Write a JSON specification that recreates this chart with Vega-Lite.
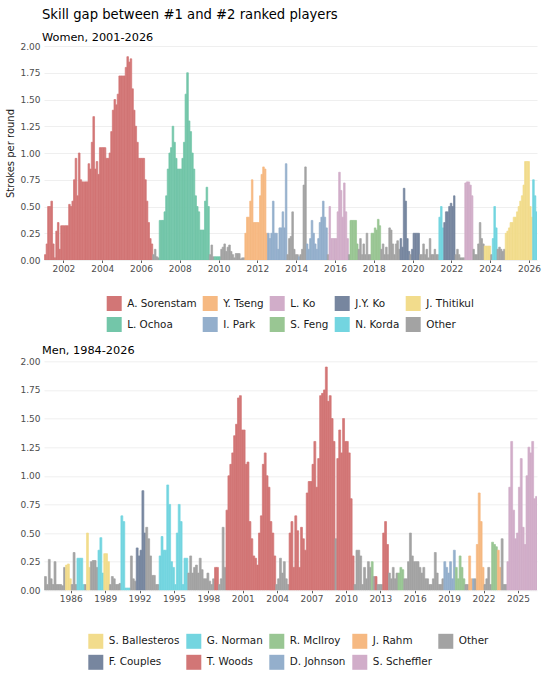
{
"$schema":"https://vega.github.io/schema/vega-lite/v6.json",
"padding":{"left":5,"top":7,"right":4,"bottom":4},
"background":"white",
"bounds":"flush",
"spacing":101.3,
"config":{
"font":"DejaVu Sans",
"view":{"stroke":null},
"axis":{"labelFont":"DejaVu Sans","labelFontSize":9,"labelColor":"#4d4d4d","ticks":false,"domain":false,"gridColor":"#ebebeb","gridWidth":0.8,"labelPadding":4,"titleFont":"DejaVu Sans","titleFontWeight":"normal","titleFontSize":10,"titleColor":"#1a1a1a","titlePadding":4},
"axisX":{"ticks":true,"tickSize":2.5,"tickColor":"#333333","tickWidth":0.8,"labelPadding":1.5},
"legend":{"title":null,"symbolType":"square","symbolSize":225,"symbolStrokeWidth":0,"symbolOpacity":1,"labelFont":"DejaVu Sans","labelFontSize":10.4,"labelColor":"#1a1a1a","labelOffset":5.5,"columnPadding":6,"rowPadding":6},
"title":{"font":"DejaVu Sans","fontWeight":"normal","color":"#000000","subtitleFont":"DejaVu Sans","subtitleColor":"#000000","anchor":"start","frame":"group"}
},
"datasets":{
"wplayers":[{"c":"S","player":"A. Sorenstam"},{"c":"O","player":"L. Ochoa"},{"c":"T","player":"Y. Tseng"},{"c":"P","player":"I. Park"},{"c":"K","player":"L. Ko"},{"c":"F","player":"S. Feng"},{"c":"J","player":"J.Y. Ko"},{"c":"N","player":"N. Korda"},{"c":"A","player":"J. Thitikul"},{"c":"X","player":"Other"}],
"mplayers":[{"c":"B","player":"S. Ballesteros"},{"c":"C","player":"F. Couples"},{"c":"N","player":"G. Norman"},{"c":"W","player":"T. Woods"},{"c":"M","player":"R. McIlroy"},{"c":"D","player":"D. Johnson"},{"c":"R","player":"J. Rahm"},{"c":"S","player":"S. Scheffler"},{"c":"X","player":"Other"}],
"women":[
{"d":"2001-01","v":0.05,"c":"S"},{"d":"2001-02","v":0.15,"c":"S"},{"d":"2001-03","v":0.5,"c":"S"},{"d":"2001-04","v":0.5,"c":"S"},{"d":"2001-05","v":0.55,"c":"S"},{"d":"2001-06","v":0.15,"c":"S"},{"d":"2001-07","v":0.02,"c":"S"},{"d":"2001-08","v":0.27,"c":"S"},{"d":"2001-09","v":0.35,"c":"S"},{"d":"2001-10","v":0.1,"c":"S"},{"d":"2001-11","v":0.32,"c":"S"},{"d":"2001-12","v":0.32,"c":"S"},
{"d":"2002-01","v":0.32,"c":"S"},{"d":"2002-02","v":0.32,"c":"S"},{"d":"2002-03","v":0.32,"c":"S"},{"d":"2002-04","v":0.52,"c":"S"},{"d":"2002-05","v":0.5,"c":"S"},{"d":"2002-06","v":0.55,"c":"S"},{"d":"2002-07","v":0.75,"c":"S"},{"d":"2002-08","v":0.95,"c":"S"},{"d":"2002-09","v":0.6,"c":"S"},{"d":"2002-10","v":1.0,"c":"S"},{"d":"2002-11","v":0.75,"c":"S"},{"d":"2002-12","v":0.73,"c":"S"},
{"d":"2003-01","v":0.73,"c":"S"},{"d":"2003-02","v":0.73,"c":"S"},{"d":"2003-03","v":0.73,"c":"S"},{"d":"2003-04","v":0.9,"c":"S"},{"d":"2003-05","v":0.85,"c":"S"},{"d":"2003-06","v":1.1,"c":"S"},{"d":"2003-07","v":1.34,"c":"S"},{"d":"2003-08","v":0.85,"c":"S"},{"d":"2003-09","v":0.92,"c":"S"},{"d":"2003-10","v":0.8,"c":"S"},{"d":"2003-11","v":1.05,"c":"S"},{"d":"2003-12","v":1.05,"c":"S"},
{"d":"2004-01","v":1.05,"c":"S"},{"d":"2004-02","v":1.05,"c":"S"},{"d":"2004-03","v":0.95,"c":"S"},{"d":"2004-04","v":0.95,"c":"S"},{"d":"2004-05","v":1.0,"c":"S"},{"d":"2004-06","v":1.2,"c":"S"},{"d":"2004-07","v":1.4,"c":"S"},{"d":"2004-08","v":1.5,"c":"S"},{"d":"2004-09","v":1.45,"c":"S"},{"d":"2004-10","v":1.55,"c":"S"},{"d":"2004-11","v":1.72,"c":"S"},{"d":"2004-12","v":1.72,"c":"S"},
{"d":"2005-01","v":1.72,"c":"S"},{"d":"2005-02","v":1.72,"c":"S"},{"d":"2005-03","v":1.8,"c":"S"},{"d":"2005-04","v":1.9,"c":"S"},{"d":"2005-05","v":1.85,"c":"S"},{"d":"2005-06","v":1.88,"c":"S"},{"d":"2005-07","v":1.6,"c":"S"},{"d":"2005-08","v":1.4,"c":"S"},{"d":"2005-09","v":1.25,"c":"S"},{"d":"2005-10","v":1.1,"c":"S"},{"d":"2005-11","v":0.95,"c":"S"},{"d":"2005-12","v":0.95,"c":"S"},
{"d":"2006-01","v":0.95,"c":"S"},{"d":"2006-02","v":0.95,"c":"S"},{"d":"2006-03","v":0.75,"c":"S"},{"d":"2006-04","v":0.55,"c":"S"},{"d":"2006-05","v":0.35,"c":"S"},{"d":"2006-06","v":0.2,"c":"S"},{"d":"2006-07","v":0.15,"c":"S"},{"d":"2006-08","v":0.05,"c":"X"},{"d":"2006-09","v":0.1,"c":"X"},{"d":"2006-10","v":0.03,"c":"X"},{"d":"2006-11","v":0.02,"c":"X"},{"d":"2006-12","v":0.37,"c":"O"},
{"d":"2007-01","v":0.37,"c":"O"},{"d":"2007-02","v":0.37,"c":"O"},{"d":"2007-03","v":0.45,"c":"O"},{"d":"2007-04","v":0.6,"c":"O"},{"d":"2007-05","v":0.85,"c":"O"},{"d":"2007-06","v":1.0,"c":"O"},{"d":"2007-07","v":1.05,"c":"O"},{"d":"2007-08","v":1.25,"c":"O"},{"d":"2007-09","v":1.1,"c":"O"},{"d":"2007-10","v":0.95,"c":"O"},{"d":"2007-11","v":0.85,"c":"O"},{"d":"2007-12","v":0.85,"c":"O"},
{"d":"2008-01","v":0.85,"c":"O"},{"d":"2008-02","v":0.95,"c":"O"},{"d":"2008-03","v":1.1,"c":"O"},{"d":"2008-04","v":1.55,"c":"O"},{"d":"2008-05","v":1.75,"c":"O"},{"d":"2008-06","v":1.3,"c":"O"},{"d":"2008-07","v":1.2,"c":"O"},{"d":"2008-08","v":1.0,"c":"O"},{"d":"2008-09","v":0.85,"c":"O"},{"d":"2008-10","v":0.6,"c":"O"},{"d":"2008-11","v":0.5,"c":"O"},{"d":"2008-12","v":0.45,"c":"O"},
{"d":"2009-01","v":0.28,"c":"O"},{"d":"2009-02","v":0.28,"c":"O"},{"d":"2009-03","v":0.28,"c":"O"},{"d":"2009-04","v":0.55,"c":"O"},{"d":"2009-05","v":0.68,"c":"O"},{"d":"2009-06","v":0.5,"c":"O"},{"d":"2009-07","v":0.05,"c":"X"},{"d":"2009-08","v":0.14,"c":"X"},{"d":"2009-09","v":0.03,"c":"X"},{"d":"2009-10","v":0.03,"c":"O"},{"d":"2009-11","v":0.03,"c":"O"},{"d":"2009-12","v":0.03,"c":"O"},
{"d":"2010-01","v":0.03,"c":"O"},{"d":"2010-02","v":0.1,"c":"X"},{"d":"2010-03","v":0.12,"c":"X"},{"d":"2010-04","v":0.15,"c":"X"},{"d":"2010-05","v":0.08,"c":"X"},{"d":"2010-06","v":0.12,"c":"X"},{"d":"2010-07","v":0.14,"c":"X"},{"d":"2010-08","v":0.08,"c":"X"},{"d":"2010-09","v":0.05,"c":"X"},{"d":"2010-10","v":0.02,"c":"X"},{"d":"2010-11","v":0.06,"c":"X"},{"d":"2010-12","v":0.06,"c":"X"},
{"d":"2011-01","v":0.06,"c":"X"},{"d":"2011-02","v":0.01,"c":"X"},{"d":"2011-03","v":0.02,"c":"X"},{"d":"2011-04","v":0.02,"c":"X"},{"d":"2011-05","v":0.25,"c":"T"},{"d":"2011-06","v":0.4,"c":"T"},{"d":"2011-07","v":0.4,"c":"T"},{"d":"2011-08","v":0.55,"c":"T"},{"d":"2011-09","v":0.75,"c":"T"},{"d":"2011-10","v":0.35,"c":"T"},{"d":"2011-11","v":0.35,"c":"T"},{"d":"2011-12","v":0.35,"c":"T"},
{"d":"2012-01","v":0.35,"c":"T"},{"d":"2012-02","v":0.6,"c":"T"},{"d":"2012-03","v":0.8,"c":"T"},{"d":"2012-04","v":0.87,"c":"T"},{"d":"2012-05","v":0.85,"c":"T"},{"d":"2012-06","v":0.25,"c":"T"},{"d":"2012-07","v":0.25,"c":"P"},{"d":"2012-08","v":0.2,"c":"P"},{"d":"2012-09","v":0.25,"c":"P"},{"d":"2012-10","v":0.55,"c":"P"},{"d":"2012-11","v":0.25,"c":"P"},{"d":"2012-12","v":0.25,"c":"P"},
{"d":"2013-01","v":0.1,"c":"P"},{"d":"2013-02","v":0.3,"c":"P"},{"d":"2013-03","v":0.3,"c":"P"},{"d":"2013-04","v":0.45,"c":"P"},{"d":"2013-05","v":0.3,"c":"P"},{"d":"2013-06","v":0.9,"c":"P"},{"d":"2013-07","v":0.05,"c":"X"},{"d":"2013-08","v":0.2,"c":"X"},{"d":"2013-09","v":0.22,"c":"X"},{"d":"2013-10","v":0.45,"c":"X"},{"d":"2013-11","v":0.1,"c":"X"},{"d":"2013-12","v":0.05,"c":"X"},
{"d":"2014-01","v":0.05,"c":"X"},{"d":"2014-02","v":0.03,"c":"P"},{"d":"2014-03","v":0.05,"c":"X"},{"d":"2014-04","v":0.1,"c":"X"},{"d":"2014-05","v":0.7,"c":"X"},{"d":"2014-06","v":0.87,"c":"X"},{"d":"2014-07","v":0.15,"c":"P"},{"d":"2014-08","v":0.1,"c":"P"},{"d":"2014-09","v":0.2,"c":"P"},{"d":"2014-10","v":0.37,"c":"P"},{"d":"2014-11","v":0.25,"c":"P"},{"d":"2014-12","v":0.15,"c":"P"},
{"d":"2015-01","v":0.1,"c":"P"},{"d":"2015-02","v":0.2,"c":"P"},{"d":"2015-03","v":0.35,"c":"P"},{"d":"2015-04","v":0.4,"c":"P"},{"d":"2015-05","v":0.55,"c":"P"},{"d":"2015-06","v":0.4,"c":"P"},{"d":"2015-07","v":0.3,"c":"P"},{"d":"2015-08","v":0.05,"c":"X"},{"d":"2015-09","v":0.5,"c":"K"},{"d":"2015-10","v":0.2,"c":"K"},{"d":"2015-11","v":0.2,"c":"K"},{"d":"2015-12","v":0.2,"c":"K"},
{"d":"2016-01","v":0.2,"c":"K"},{"d":"2016-02","v":0.45,"c":"K"},{"d":"2016-03","v":0.82,"c":"K"},{"d":"2016-04","v":0.65,"c":"K"},{"d":"2016-05","v":0.4,"c":"K"},{"d":"2016-06","v":0.72,"c":"K"},{"d":"2016-07","v":0.45,"c":"K"},{"d":"2016-08","v":0.2,"c":"K"},{"d":"2016-09","v":0.05,"c":"X"},{"d":"2016-10","v":0.37,"c":"F"},{"d":"2016-11","v":0.37,"c":"F"},{"d":"2016-12","v":0.37,"c":"F"},
{"d":"2017-01","v":0.37,"c":"F"},{"d":"2017-02","v":0.15,"c":"F"},{"d":"2017-03","v":0.1,"c":"X"},{"d":"2017-04","v":0.2,"c":"X"},{"d":"2017-05","v":0.05,"c":"X"},{"d":"2017-06","v":0.15,"c":"X"},{"d":"2017-07","v":0.05,"c":"X"},{"d":"2017-08","v":0.25,"c":"X"},{"d":"2017-09","v":0.05,"c":"X"},{"d":"2017-10","v":0.05,"c":"X"},{"d":"2017-11","v":0.25,"c":"F"},{"d":"2017-12","v":0.25,"c":"F"},
{"d":"2018-01","v":0.3,"c":"F"},{"d":"2018-02","v":0.28,"c":"F"},{"d":"2018-03","v":0.38,"c":"F"},{"d":"2018-04","v":0.32,"c":"F"},{"d":"2018-05","v":0.1,"c":"X"},{"d":"2018-06","v":0.15,"c":"X"},{"d":"2018-07","v":0.05,"c":"X"},{"d":"2018-08","v":0.12,"c":"X"},{"d":"2018-09","v":0.05,"c":"X"},{"d":"2018-10","v":0.3,"c":"X"},{"d":"2018-11","v":0.28,"c":"X"},{"d":"2018-12","v":0.15,"c":"X"},
{"d":"2019-01","v":0.05,"c":"X"},{"d":"2019-02","v":0.15,"c":"X"},{"d":"2019-03","v":0.18,"c":"X"},{"d":"2019-04","v":0.1,"c":"X"},{"d":"2019-05","v":0.2,"c":"J"},{"d":"2019-06","v":0.12,"c":"J"},{"d":"2019-07","v":0.67,"c":"J"},{"d":"2019-08","v":0.55,"c":"J"},{"d":"2019-09","v":0.2,"c":"J"},{"d":"2019-10","v":0.08,"c":"J"},{"d":"2019-11","v":0.05,"c":"X"},{"d":"2019-12","v":0.1,"c":"J"},
{"d":"2020-01","v":0.25,"c":"J"},{"d":"2020-02","v":0.25,"c":"J"},{"d":"2020-03","v":0.25,"c":"J"},{"d":"2020-04","v":0.25,"c":"J"},{"d":"2020-05","v":0.05,"c":"X"},{"d":"2020-06","v":0.05,"c":"X"},{"d":"2020-07","v":0.15,"c":"X"},{"d":"2020-08","v":0.05,"c":"X"},{"d":"2020-09","v":0.1,"c":"X"},{"d":"2020-10","v":0.02,"c":"X"},{"d":"2020-11","v":0.2,"c":"X"},{"d":"2020-12","v":0.05,"c":"X"},
{"d":"2021-01","v":0.05,"c":"X"},{"d":"2021-02","v":0.1,"c":"X"},{"d":"2021-03","v":0.05,"c":"X"},{"d":"2021-04","v":0.05,"c":"X"},{"d":"2021-05","v":0.4,"c":"N"},{"d":"2021-06","v":0.5,"c":"N"},{"d":"2021-07","v":0.3,"c":"N"},{"d":"2021-08","v":0.35,"c":"J"},{"d":"2021-09","v":0.45,"c":"J"},{"d":"2021-10","v":0.45,"c":"J"},{"d":"2021-11","v":0.5,"c":"J"},{"d":"2021-12","v":0.53,"c":"J"},
{"d":"2022-01","v":0.5,"c":"J"},{"d":"2022-02","v":0.6,"c":"J"},{"d":"2022-03","v":0.05,"c":"X"},{"d":"2022-04","v":0.1,"c":"X"},{"d":"2022-05","v":0.05,"c":"X"},{"d":"2022-06","v":0.02,"c":"X"},{"d":"2022-07","v":0.02,"c":"X"},{"d":"2022-08","v":0.02,"c":"X"},{"d":"2022-09","v":0.72,"c":"K"},{"d":"2022-10","v":0.73,"c":"K"},{"d":"2022-11","v":0.73,"c":"K"},{"d":"2022-12","v":0.7,"c":"K"},
{"d":"2023-01","v":0.6,"c":"K"},{"d":"2023-02","v":0.1,"c":"X"},{"d":"2023-03","v":0.05,"c":"X"},{"d":"2023-04","v":0.05,"c":"X"},{"d":"2023-05","v":0.15,"c":"X"},{"d":"2023-06","v":0.35,"c":"X"},{"d":"2023-07","v":0.2,"c":"X"},{"d":"2023-08","v":0.15,"c":"X"},{"d":"2023-09","v":0.13,"c":"A"},{"d":"2023-10","v":0.13,"c":"A"},{"d":"2023-11","v":0.13,"c":"A"},{"d":"2023-12","v":0.13,"c":"A"},
{"d":"2024-01","v":0.05,"c":"X"},{"d":"2024-02","v":0.2,"c":"N"},{"d":"2024-03","v":0.5,"c":"N"},{"d":"2024-04","v":0.3,"c":"N"},{"d":"2024-05","v":0.1,"c":"X"},{"d":"2024-06","v":0.12,"c":"X"},{"d":"2024-07","v":0.1,"c":"X"},{"d":"2024-08","v":0.08,"c":"X"},{"d":"2024-09","v":0.1,"c":"X"},{"d":"2024-10","v":0.25,"c":"A"},{"d":"2024-11","v":0.27,"c":"A"},{"d":"2024-12","v":0.3,"c":"A"},
{"d":"2025-01","v":0.35,"c":"A"},{"d":"2025-02","v":0.35,"c":"A"},{"d":"2025-03","v":0.4,"c":"A"},{"d":"2025-04","v":0.4,"c":"A"},{"d":"2025-05","v":0.45,"c":"A"},{"d":"2025-06","v":0.5,"c":"A"},{"d":"2025-07","v":0.55,"c":"A"},{"d":"2025-08","v":0.6,"c":"A"},{"d":"2025-09","v":0.7,"c":"A"},{"d":"2025-10","v":0.92,"c":"A"},{"d":"2025-11","v":0.92,"c":"A"},{"d":"2025-12","v":0.92,"c":"A"},
{"d":"2026-01","v":0.5,"c":"A"},{"d":"2026-02","v":0.4,"c":"A"},{"d":"2026-03","v":0.75,"c":"N"},{"d":"2026-04","v":0.6,"c":"N"},{"d":"2026-05","v":0.45,"c":"N"}
],
"men":[
{"d":"1983-09","v":0.12,"c":"X"},{"d":"1983-11","v":0.05,"c":"X"},
{"d":"1984-01","v":0.27,"c":"X"},{"d":"1984-03","v":0.1,"c":"X"},{"d":"1984-05","v":0.05,"c":"X"},{"d":"1984-07","v":0.25,"c":"X"},{"d":"1984-09","v":0.05,"c":"X"},{"d":"1984-11","v":0.05,"c":"X"},
{"d":"1985-01","v":0.05,"c":"X"},{"d":"1985-03","v":0.04,"c":"X"},{"d":"1985-05","v":0.2,"c":"X"},{"d":"1985-07","v":0.22,"c":"B"},{"d":"1985-09","v":0.23,"c":"B"},{"d":"1985-11","v":0.1,"c":"B"},
{"d":"1986-01","v":0.05,"c":"X"},{"d":"1986-03","v":0.33,"c":"X"},{"d":"1986-05","v":0.05,"c":"X"},{"d":"1986-07","v":0.28,"c":"N"},{"d":"1986-09","v":0.28,"c":"N"},{"d":"1986-11","v":0.28,"c":"N"},
{"d":"1987-01","v":0.05,"c":"N"},{"d":"1987-03","v":0.05,"c":"X"},{"d":"1987-05","v":0.5,"c":"B"},{"d":"1987-07","v":0.2,"c":"B"},{"d":"1987-09","v":0.25,"c":"X"},{"d":"1987-11","v":0.26,"c":"X"},
{"d":"1988-01","v":0.26,"c":"X"},{"d":"1988-03","v":0.2,"c":"X"},{"d":"1988-05","v":0.35,"c":"N"},{"d":"1988-07","v":0.46,"c":"N"},{"d":"1988-09","v":0.15,"c":"N"},{"d":"1988-11","v":0.32,"c":"B"},
{"d":"1989-01","v":0.32,"c":"B"},{"d":"1989-03","v":0.25,"c":"B"},{"d":"1989-05","v":0.05,"c":"X"},{"d":"1989-07","v":0.12,"c":"X"},{"d":"1989-09","v":0.1,"c":"X"},{"d":"1989-11","v":0.05,"c":"X"},
{"d":"1990-01","v":0.05,"c":"X"},{"d":"1990-03","v":0.06,"c":"X"},{"d":"1990-05","v":0.65,"c":"N"},{"d":"1990-07","v":0.6,"c":"N"},{"d":"1990-09","v":0.02,"c":"N"},{"d":"1990-11","v":0.02,"c":"N"},
{"d":"1991-01","v":0.02,"c":"N"},{"d":"1991-03","v":0.3,"c":"X"},{"d":"1991-05","v":0.1,"c":"X"},{"d":"1991-07","v":0.08,"c":"X"},{"d":"1991-09","v":0.37,"c":"C"},{"d":"1991-11","v":0.3,"c":"C"},
{"d":"1992-01","v":0.35,"c":"C"},{"d":"1992-03","v":0.87,"c":"C"},{"d":"1992-05","v":0.5,"c":"C"},{"d":"1992-07","v":0.55,"c":"X"},{"d":"1992-09","v":0.45,"c":"X"},{"d":"1992-11","v":0.3,"c":"X"},
{"d":"1993-01","v":0.13,"c":"X"},{"d":"1993-03","v":0.13,"c":"X"},{"d":"1993-05","v":0.05,"c":"X"},{"d":"1993-07","v":0.05,"c":"X"},{"d":"1993-09","v":0.3,"c":"N"},{"d":"1993-11","v":0.47,"c":"N"},
{"d":"1994-01","v":0.35,"c":"N"},{"d":"1994-03","v":0.35,"c":"N"},{"d":"1994-05","v":0.92,"c":"N"},{"d":"1994-07","v":0.75,"c":"N"},{"d":"1994-09","v":0.25,"c":"N"},{"d":"1994-11","v":0.2,"c":"N"},
{"d":"1995-01","v":0.05,"c":"N"},{"d":"1995-03","v":0.5,"c":"N"},{"d":"1995-05","v":0.75,"c":"N"},{"d":"1995-07","v":0.6,"c":"N"},{"d":"1995-09","v":0.05,"c":"N"},{"d":"1995-11","v":0.28,"c":"N"},
{"d":"1996-01","v":0.28,"c":"N"},{"d":"1996-03","v":0.15,"c":"X"},{"d":"1996-05","v":0.3,"c":"X"},{"d":"1996-07","v":0.15,"c":"X"},{"d":"1996-09","v":0.2,"c":"X"},{"d":"1996-11","v":0.22,"c":"X"},
{"d":"1997-01","v":0.15,"c":"X"},{"d":"1997-03","v":0.28,"c":"X"},{"d":"1997-05","v":0.18,"c":"X"},{"d":"1997-07","v":0.1,"c":"X"},{"d":"1997-09","v":0.1,"c":"X"},{"d":"1997-11","v":0.15,"c":"X"},
{"d":"1998-01","v":0.08,"c":"X"},{"d":"1998-03","v":0.05,"c":"X"},{"d":"1998-05","v":0.1,"c":"X"},{"d":"1998-07","v":0.2,"c":"W"},{"d":"1998-09","v":0.2,"c":"W"},{"d":"1998-11","v":0.05,"c":"X"},
{"d":"1999-01","v":0.1,"c":"X"},{"d":"1999-03","v":0.55,"c":"X"},{"d":"1999-05","v":0.2,"c":"X"},{"d":"1999-07","v":0.7,"c":"W"},{"d":"1999-09","v":1.0,"c":"W"},{"d":"1999-11","v":1.1,"c":"W"},
{"d":"2000-01","v":1.2,"c":"W"},{"d":"2000-03","v":1.35,"c":"W"},{"d":"2000-05","v":1.45,"c":"W"},{"d":"2000-07","v":1.68,"c":"W"},{"d":"2000-09","v":1.7,"c":"W"},{"d":"2000-11","v":1.4,"c":"W"},
{"d":"2001-01","v":1.4,"c":"W"},{"d":"2001-03","v":1.1,"c":"W"},{"d":"2001-05","v":1.12,"c":"W"},{"d":"2001-07","v":0.6,"c":"W"},{"d":"2001-09","v":0.45,"c":"W"},{"d":"2001-11","v":0.3,"c":"W"},
{"d":"2002-01","v":0.28,"c":"W"},{"d":"2002-03","v":0.22,"c":"W"},{"d":"2002-05","v":0.5,"c":"W"},{"d":"2002-07","v":0.65,"c":"W"},{"d":"2002-09","v":1.1,"c":"W"},{"d":"2002-11","v":1.2,"c":"W"},
{"d":"2003-01","v":1.0,"c":"W"},{"d":"2003-03","v":0.9,"c":"W"},{"d":"2003-05","v":0.6,"c":"W"},{"d":"2003-07","v":0.5,"c":"W"},{"d":"2003-09","v":0.3,"c":"W"},{"d":"2003-11","v":0.05,"c":"X"},
{"d":"2004-01","v":0.1,"c":"X"},{"d":"2004-03","v":0.28,"c":"X"},{"d":"2004-05","v":0.15,"c":"X"},{"d":"2004-07","v":0.25,"c":"X"},{"d":"2004-09","v":0.1,"c":"X"},{"d":"2004-11","v":0.05,"c":"X"},
{"d":"2005-01","v":0.5,"c":"W"},{"d":"2005-03","v":0.6,"c":"W"},{"d":"2005-05","v":0.2,"c":"W"},{"d":"2005-07","v":0.65,"c":"W"},{"d":"2005-09","v":0.52,"c":"W"},{"d":"2005-11","v":0.2,"c":"W"},
{"d":"2006-01","v":0.55,"c":"W"},{"d":"2006-03","v":0.45,"c":"W"},{"d":"2006-05","v":0.35,"c":"W"},{"d":"2006-07","v":0.85,"c":"W"},{"d":"2006-09","v":0.95,"c":"W"},{"d":"2006-11","v":0.95,"c":"W"},
{"d":"2007-01","v":1.1,"c":"W"},{"d":"2007-03","v":1.3,"c":"W"},{"d":"2007-05","v":0.9,"c":"W"},{"d":"2007-07","v":1.15,"c":"W"},{"d":"2007-09","v":1.7,"c":"W"},{"d":"2007-11","v":1.72,"c":"W"},
{"d":"2008-01","v":1.75,"c":"W"},{"d":"2008-03","v":1.95,"c":"W"},{"d":"2008-05","v":1.65,"c":"W"},{"d":"2008-07","v":1.7,"c":"W"},{"d":"2008-09","v":1.5,"c":"W"},{"d":"2008-11","v":1.3,"c":"W"},
{"d":"2009-01","v":0.45,"c":"X"},{"d":"2009-03","v":1.15,"c":"W"},{"d":"2009-05","v":1.4,"c":"W"},{"d":"2009-07","v":1.2,"c":"W"},{"d":"2009-09","v":1.5,"c":"W"},{"d":"2009-11","v":1.3,"c":"W"},
{"d":"2010-01","v":1.3,"c":"W"},{"d":"2010-03","v":1.2,"c":"W"},{"d":"2010-05","v":0.8,"c":"W"},{"d":"2010-07","v":0.3,"c":"W"},{"d":"2010-09","v":0.05,"c":"X"},{"d":"2010-11","v":0.35,"c":"X"},
{"d":"2011-01","v":0.35,"c":"X"},{"d":"2011-03","v":0.3,"c":"X"},{"d":"2011-05","v":0.05,"c":"X"},{"d":"2011-07","v":0.2,"c":"X"},{"d":"2011-09","v":0.1,"c":"X"},{"d":"2011-11","v":0.25,"c":"X"},
{"d":"2012-01","v":0.2,"c":"X"},{"d":"2012-03","v":0.25,"c":"M"},{"d":"2012-05","v":0.12,"c":"X"},{"d":"2012-07","v":0.12,"c":"W"},{"d":"2012-09","v":0.05,"c":"X"},{"d":"2012-11","v":0.05,"c":"X"},
{"d":"2013-01","v":0.05,"c":"X"},{"d":"2013-03","v":0.5,"c":"W"},{"d":"2013-05","v":0.6,"c":"W"},{"d":"2013-07","v":0.4,"c":"W"},{"d":"2013-09","v":0.15,"c":"X"},{"d":"2013-11","v":0.1,"c":"X"},
{"d":"2014-01","v":0.2,"c":"X"},{"d":"2014-03","v":0.1,"c":"X"},{"d":"2014-05","v":0.15,"c":"X"},{"d":"2014-07","v":0.15,"c":"M"},{"d":"2014-09","v":0.2,"c":"M"},{"d":"2014-11","v":0.18,"c":"M"},
{"d":"2015-01","v":0.1,"c":"X"},{"d":"2015-03","v":0.1,"c":"X"},{"d":"2015-05","v":0.25,"c":"X"},{"d":"2015-07","v":0.5,"c":"X"},{"d":"2015-09","v":0.3,"c":"X"},{"d":"2015-11","v":0.25,"c":"X"},
{"d":"2016-01","v":0.25,"c":"X"},{"d":"2016-03","v":0.25,"c":"X"},{"d":"2016-05","v":0.2,"c":"X"},{"d":"2016-07","v":0.15,"c":"X"},{"d":"2016-09","v":0.2,"c":"X"},{"d":"2016-11","v":0.1,"c":"X"},
{"d":"2017-01","v":0.1,"c":"X"},{"d":"2017-03","v":0.05,"c":"X"},{"d":"2017-05","v":0.05,"c":"X"},{"d":"2017-07","v":0.1,"c":"X"},{"d":"2017-09","v":0.33,"c":"X"},{"d":"2017-11","v":0.15,"c":"X"},
{"d":"2018-01","v":0.05,"c":"X"},{"d":"2018-03","v":0.05,"c":"X"},{"d":"2018-05","v":0.1,"c":"X"},{"d":"2018-07","v":0.25,"c":"D"},{"d":"2018-09","v":0.2,"c":"D"},{"d":"2018-11","v":0.15,"c":"D"},
{"d":"2019-01","v":0.25,"c":"D"},{"d":"2019-03","v":0.1,"c":"D"},{"d":"2019-05","v":0.35,"c":"D"},{"d":"2019-07","v":0.2,"c":"M"},{"d":"2019-09","v":0.1,"c":"M"},{"d":"2019-11","v":0.3,"c":"M"},
{"d":"2020-01","v":0.2,"c":"M"},{"d":"2020-03","v":0.1,"c":"M"},{"d":"2020-05","v":0.05,"c":"X"},{"d":"2020-07","v":0.05,"c":"X"},{"d":"2020-09","v":0.3,"c":"R"},{"d":"2020-11","v":0.1,"c":"R"},
{"d":"2021-01","v":0.1,"c":"D"},{"d":"2021-03","v":0.1,"c":"X"},{"d":"2021-05","v":0.4,"c":"R"},{"d":"2021-07","v":0.85,"c":"R"},{"d":"2021-09","v":0.6,"c":"R"},{"d":"2021-11","v":0.2,"c":"R"},
{"d":"2022-01","v":0.05,"c":"X"},{"d":"2022-03","v":0.1,"c":"X"},{"d":"2022-05","v":0.2,"c":"X"},{"d":"2022-07","v":0.05,"c":"X"},{"d":"2022-09","v":0.42,"c":"M"},{"d":"2022-11","v":0.4,"c":"M"},
{"d":"2023-01","v":0.38,"c":"M"},{"d":"2023-03","v":0.35,"c":"R"},{"d":"2023-05","v":0.2,"c":"R"},{"d":"2023-07","v":0.45,"c":"X"},{"d":"2023-09","v":0.05,"c":"X"},{"d":"2023-11","v":0.05,"c":"X"},
{"d":"2024-01","v":0.25,"c":"S"},{"d":"2024-03","v":0.9,"c":"S"},{"d":"2024-05","v":1.3,"c":"S"},{"d":"2024-07","v":0.7,"c":"S"},{"d":"2024-09","v":0.45,"c":"S"},{"d":"2024-11","v":0.5,"c":"S"},
{"d":"2025-01","v":0.9,"c":"S"},{"d":"2025-03","v":1.15,"c":"S"},{"d":"2025-05","v":0.55,"c":"S"},{"d":"2025-07","v":0.4,"c":"S"},{"d":"2025-09","v":1.0,"c":"S"},{"d":"2025-11","v":1.25,"c":"S"},
{"d":"2026-01","v":1.2,"c":"S"},{"d":"2026-03","v":1.3,"c":"S"},{"d":"2026-05","v":0.8,"c":"S"},{"d":"2026-07","v":0.82,"c":"S"}
]
},
"vconcat":[
{
"title":{"text":"Skill gap between #1 and #2 ranked players","subtitle":"Women, 2001-2026","fontSize":13.2,"subtitleFontSize":11.3,"subtitlePadding":10,"offset":-2.3,"dx":-2},
"width":493,"height":214,
"data":{"name":"women"},
"transform":[{"lookup":"c","from":{"data":{"name":"wplayers"},"key":"c","fields":["player"]}}],
"mark":{"type":"bar","clip":true,"binSpacing":0,"strokeWidth":0.7},
"encoding":{
"x":{"field":"d","timeUnit":"utcyearmonth","type":"temporal","title":null,"scale":{"type":"utc","domain":[{"year":2001,"month":1,"date":1,"utc":true},{"year":2026,"month":6,"date":1,"utc":true}]},"axis":{"format":"%Y","tickCount":{"interval":"year","step":2},"grid":false,"labelFlush":false}},
"y":{"field":"v","type":"quantitative","title":"Strokes per round","scale":{"domain":[0,2]},"axis":{"values":[0,0.25,0.5,0.75,1,1.25,1.5,1.75,2],"format":".2f","grid":true}},
"color":{"field":"player","type":"nominal","scale":{"domain":["A. Sorenstam","Y. Tseng","L. Ko","J.Y. Ko","J. Thitikul","L. Ochoa","I. Park","S. Feng","N. Korda","Other"],"range":["#d27676","#f6b982","#d1adc9","#77869f","#f2dc8c","#73c6a9","#94afcc","#99c693","#73d5e0","#a3a3a3"]},"legend":{"orient":"none","legendX":62.7,"legendY":250,"columns":5,"direction":"horizontal"}},
"stroke":{"field":"player","type":"nominal","scale":{"domain":["A. Sorenstam","Y. Tseng","L. Ko","J.Y. Ko","J. Thitikul","L. Ochoa","I. Park","S. Feng","N. Korda","Other"],"range":["#d27676","#f6b982","#d1adc9","#77869f","#f2dc8c","#73c6a9","#94afcc","#99c693","#73d5e0","#a3a3a3"]},"legend":null}
}
},
{
"title":{"text":"Men, 1984-2026","fontSize":11.3,"offset":1.5,"dx":-2},
"width":493,"height":229,
"data":{"name":"men"},
"transform":[{"lookup":"c","from":{"data":{"name":"mplayers"},"key":"c","fields":["player"]}}],
"mark":{"type":"bar","clip":true,"binSpacing":0,"strokeWidth":0.7},
"encoding":{
"x":{"field":"d","timeUnit":{"unit":"utcyearmonth","step":2},"type":"temporal","title":null,"scale":{"type":"utc","domain":[{"year":1983,"month":9,"date":1,"utc":true},{"year":2026,"month":9,"date":1,"utc":true}]},"axis":{"format":"%Y","tickCount":{"interval":"year","step":3},"grid":false,"labelFlush":false}},
"y":{"field":"v","type":"quantitative","title":null,"scale":{"domain":[0,2]},"axis":{"values":[0,0.25,0.5,0.75,1,1.25,1.5,1.75,2],"format":".2f","grid":true}},
"color":{"field":"player","type":"nominal","scale":{"domain":["S. Ballesteros","G. Norman","R. McIlroy","J. Rahm","Other","F. Couples","T. Woods","D. Johnson","S. Scheffler"],"range":["#f2dc8c","#73d5e0","#99c693","#f6b982","#a3a3a3","#77869f","#d27676","#94afcc","#d1adc9"]},"legend":{"orient":"none","legendX":44.3,"legendY":272.5,"columns":5,"direction":"horizontal"}},
"stroke":{"field":"player","type":"nominal","scale":{"domain":["S. Ballesteros","G. Norman","R. McIlroy","J. Rahm","Other","F. Couples","T. Woods","D. Johnson","S. Scheffler"],"range":["#f2dc8c","#73d5e0","#99c693","#f6b982","#a3a3a3","#77869f","#d27676","#94afcc","#d1adc9"]},"legend":null}
}
}
],
"resolve":{"scale":{"color":"independent","stroke":"independent"}}
}
